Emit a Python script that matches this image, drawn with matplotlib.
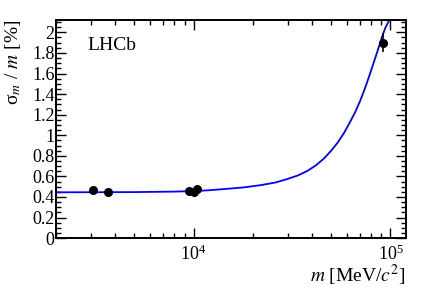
import matplotlib
matplotlib.use("Agg")
import matplotlib.pyplot as plt
import numpy as np
from matplotlib.ticker import MultipleLocator, FormatStrFormatter, LogLocator, NullFormatter

plt.rcParams['font.family'] = ['Liberation Serif', 'DejaVu Serif']
plt.rcParams['mathtext.fontset'] = 'stix'

# measured resonances (mass in MeV/c^2, relative resolution in %)
mass = [3097, 3686, 9460, 10023, 10355, 91188]
res = [0.465, 0.447, 0.455, 0.447, 0.475, 1.90]
res_err = [0.005, 0.005, 0.005, 0.005, 0.005, 0.09]

# fitted curve
curve_m = [2000, 5000, 8000, 10000, 12000, 15000, 18000, 22000, 26000, 30000,
           34000, 38000, 42000, 46000, 50000, 54000, 58000, 62000, 66000, 70000,
           74000, 78000, 82000, 86000, 90000, 94000, 98000, 101000]
curve_r = [0.445, 0.447, 0.452, 0.457, 0.465, 0.48, 0.493, 0.515, 0.54, 0.575,
           0.61, 0.655, 0.71, 0.775, 0.85, 0.93, 1.02, 1.12, 1.22, 1.33,
           1.45, 1.575, 1.70, 1.82, 1.94, 2.04, 2.11, 2.17]

fig = plt.figure(figsize=(4.27, 2.9), dpi=100)
ax = fig.add_axes([0.131, 0.179, 0.82, 0.752])

ax.plot(curve_m, curve_r, color='#0000ff', lw=1.3, zorder=2)
ax.errorbar(mass, res, yerr=res_err, fmt='o', color='black', ms=5.5,
            elinewidth=1.2, capsize=0, zorder=3)

ax.set_xscale('log')
ax.set_xlim(2000, 120000)
ax.set_ylim(0, 2.12)

ax.yaxis.set_major_locator(MultipleLocator(0.2))
ax.yaxis.set_minor_locator(MultipleLocator(0.05))
ax.yaxis.set_major_formatter(FormatStrFormatter('%g'))
ax.xaxis.set_major_locator(LogLocator(base=10))
ax.xaxis.set_minor_locator(LogLocator(base=10, subs=np.arange(2, 10)))
ax.xaxis.set_minor_formatter(NullFormatter())

ax.tick_params(which='both', direction='in', top=True, right=True, labelsize=13)
ax.tick_params(which='major', length=7, width=1)
ax.tick_params(which='minor', length=3.5, width=1)
ax.tick_params(axis='x', pad=5)
ax.tick_params(axis='y', pad=1)
for s in ax.spines.values():
    s.set_linewidth(1.4)

ax.set_ylabel(r'σ$_{m}$ / $m$ [%]', fontsize=14, loc='top')
ax.yaxis.set_label_coords(-0.095, 1.0)
ax.set_xlabel(r'$m$ [MeV/$c^2$]', fontsize=14, loc='right', labelpad=-1)

ax.text(0.09, 0.92, 'LHCb', transform=ax.transAxes, fontsize=14, va='top')

fig.savefig('out.png', dpi=100)
